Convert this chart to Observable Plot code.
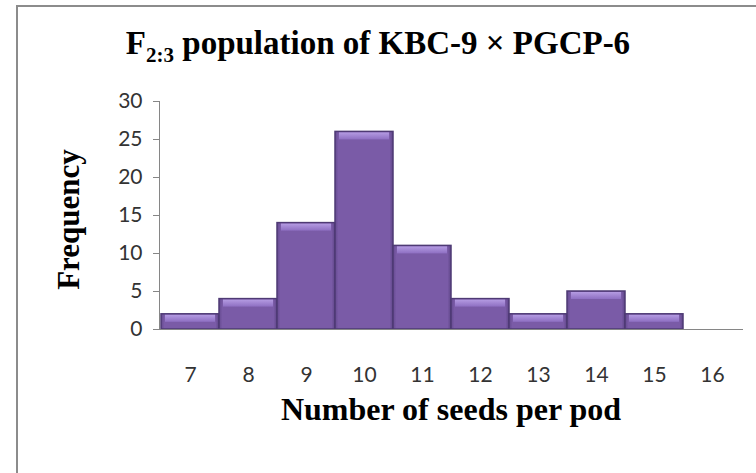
<!DOCTYPE html>
<html><head><meta charset="utf-8">
<script src="https://cdn.jsdelivr.net/npm/d3@7"></script>
<script src="https://cdn.jsdelivr.net/npm/@observablehq/plot@0.6"></script>
<style>
body{margin:0;background:#fff;overflow:hidden}
#wrap{position:relative;width:756px;height:473px;overflow:hidden;background:#fff}
#frame{position:absolute;left:16px;top:5px;width:800px;height:600px;border:2px solid #8c8c8c;box-sizing:border-box;pointer-events:none}
#chart{position:absolute;left:0;top:0}
#title{position:absolute;left:0;top:27px;width:756px;text-align:center;font:bold 33px "Liberation Serif",serif;color:#000;white-space:nowrap;line-height:1}
#title sub{font-size:21px;vertical-align:baseline;position:relative;top:8px}
</style></head><body>
<div id="wrap"><div id="chart"></div><div id="frame"></div><div id="title">F<sub>2:3</sub> population of KBC-9 × PGCP-6</div></div>
<script>
const seeds = [7, 8, 9, 10, 11, 12, 13, 14, 15];
const frequency = [2, 4, 14, 26, 11, 4, 2, 5, 2];
const xTickLabels = [7, 8, 9, 10, 11, 12, 13, 14, 15, 16];
const yTicks = [0, 5, 10, 15, 20, 25, 30];
const yLabel = "Frequency";
const xLabel = "Number of seeds per pod";

const data = seeds.map((s, i) => ({seeds: s, freq: frequency[i]}));

function gradients() {
  const defs = d3.create("svg:defs");
  const body = defs.append("linearGradient").attr("id", "barBody").attr("x1", 0).attr("x2", 1).attr("y1", 0).attr("y2", 0);
  body.append("stop").attr("offset", "0%").attr("stop-color", "#654a90");
  body.append("stop").attr("offset", "6%").attr("stop-color", "#7a5ba7");
  body.append("stop").attr("offset", "94%").attr("stop-color", "#7a5ba7");
  body.append("stop").attr("offset", "100%").attr("stop-color", "#5f4688");
  const hl = defs.append("linearGradient").attr("id", "barTop").attr("x1", 0).attr("x2", 0).attr("y1", 0).attr("y2", 1);
  hl.append("stop").attr("offset", "0%").attr("stop-color", "#b49be2");
  hl.append("stop").attr("offset", "100%").attr("stop-color", "#8e6fc2");
  return defs.node();
}

const chart = Plot.plot({
  width: 756,
  height: 473,
  marginLeft: 159,
  marginRight: 14,
  marginTop: 101,
  marginBottom: 144,
  style: {background: "transparent", overflow: "visible"},
  x: {type: "band", domain: xTickLabels, padding: 0},
  y: {domain: [0, 30]},
  marks: [
    gradients,
    Plot.barY(data, {x: "seeds", y: "freq", fill: "url(#barBody)", stroke: "#4e3a74", strokeWidth: 1.5}),
    Plot.barY(data, {x: "seeds", y1: "freq", y2: "freq", insetTop: 1, insetBottom: -8, insetLeft: 4, insetRight: 4, fill: "url(#barTop)"}),
    Plot.frame({anchor: "left", stroke: "#868686"}),
    Plot.frame({anchor: "bottom", stroke: "#868686"}),
    Plot.axisY({ticks: yTicks, tickSize: 6, tickPadding: 11, stroke: "#868686", fill: "#333", fontSize: 21, fontFamily: "Lato", label: null}),
    Plot.axisX({tickSize: 0, tickPadding: 38, fill: "#333", fontSize: 21, fontFamily: "Lato", label: null}),
    Plot.text([yLabel], {frameAnchor: "left", dx: -90, dy: 4, rotate: -90, textAnchor: "middle", fontSize: 31, fontWeight: "bold", fontFamily: "Liberation Serif", fill: "#000"}),
    Plot.text([xLabel], {frameAnchor: "bottom", dy: 90, textAnchor: "middle", fontSize: 32, fontWeight: "bold", fontFamily: "Liberation Serif", fill: "#000"})
  ]
});
document.getElementById("chart").appendChild(chart);
</script>
</body></html>
